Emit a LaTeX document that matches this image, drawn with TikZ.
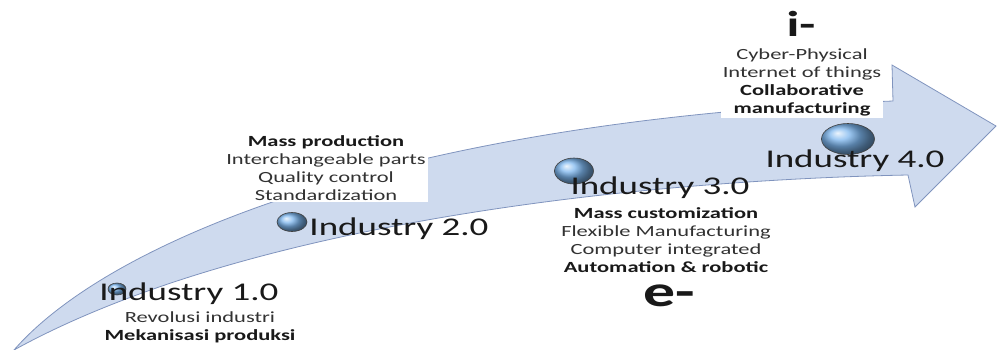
\documentclass[tikz,border=0pt]{standalone}
\usepackage{fontspec}
\setmainfont{Carlito}[FakeStretch=1.45]
\usetikzlibrary{shapes.geometric,%
                shadings}

\definecolor{shaft}{RGB}{206,218,238}
\definecolor{shaftline}{RGB}{128,148,190}
\definecolor{bubble}{RGB}{125,182,238}
\definecolor{notetxt}{RGB}{50,50,50}

\begin{document}
\begin{tikzpicture}[x=1pt, y=-1pt, every text node part/.style={align=center},
        stage/.style={font=\fontsize{25.5}{30}\selectfont, text=black!90, inner sep=0pt, anchor=base},
        note/.style={font=\fontsize{15.5}{17.8}\selectfont, text=notetxt, fill=white, inner sep=2pt, anchor=base},
        era/.style={font=\bfseries, text=black!90, inner sep=0pt, anchor=base},
        bead/.style={ellipse, draw=black!75, line width=0.6pt, ball color=bubble, inner sep=0pt}]
        \useasboundingbox (0,0) rectangle (997,349);
        % the big curved arrow
        \draw[fill=shaft, draw=shaftline, line width=0.8pt, line join=miter]
            (14,350) .. controls (110,240) and (400,120) .. (893,101)
            -- (892,65) -- (996,126) -- (915,207) -- (908,175)
            .. controls (650,180) and (250,220) .. (14,350) -- cycle;
        % notes sit on the baseline of their last line
        \node[note] (rev) at (200,340) {Revolusi industri\\{\bf\color{black!90}Mekanisasi produksi}};
        \node[note] (mass) at (326,200) {{\bf\color{black!90}Mass production}\\Interchangeable parts\\Quality control\\Standardization};
        \node[note] (cust) at (666,272) {{\bf\color{black!90}Mass customization}\\Flexible Manufacturing\\Computer integrated\\{\bf\color{black!90}Automation \& robotic}};
        \node[note] (cyber) at (802,113) {Cyber-Physical\\Internet of things\\{\bf\color{black!90}Collaborative}\\{\bf\color{black!90}manufacturing}};
        \node[bead, minimum width=18pt, minimum height=12pt] (b1) at (117,289) {};
        \node[bead, minimum width=30pt, minimum height=19pt] (b2) at (292,222) {};
        \node[bead, minimum width=39pt, minimum height=26pt] (b3) at (574,171) {};
        \node[bead, minimum width=53pt, minimum height=31pt] (b4) at (848,139) {};
        \node[stage] (ind1) at (189,300) {Industry 1.0};
        \node[stage] (ind2) at (399,235) {Industry 2.0};
        \node[stage] (ind3) at (660,194) {Industry 3.0};
        \node[stage] (ind4) at (855,167) {Industry 4.0};
        \node[era, font=\fontsize{36}{40}\selectfont\bfseries] (i) at (801,36) {i-};
        \node[era, font=\fontsize{44}{48}\selectfont\bfseries] (e) at (669,306) {e-};
\end{tikzpicture}
\end{document}
